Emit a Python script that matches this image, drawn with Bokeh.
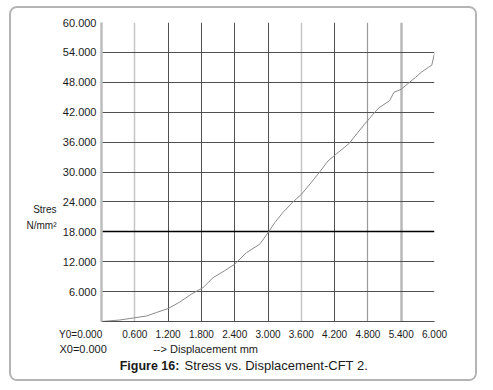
from bokeh.plotting import figure
from bokeh.layouts import column
from bokeh.models import (Range1d, FixedTicker, PrintfTickFormatter, Grid, Label,
                          LinearAxis)
from bokeh.embed import file_html
from bokeh.resources import INLINE

# ---- data ----
displacement = [0, 0.33, 0.57, 0.81, 0.99, 1.2, 1.41, 1.62, 1.83, 2.01, 2.22, 2.4,
                2.61, 2.85, 3.0, 3.12, 3.27, 3.45, 3.6, 3.78, 3.93, 4.08, 4.23, 4.35,
                4.47, 4.53, 4.74, 4.87, 5.0, 5.19, 5.27, 5.4, 5.55, 5.66, 5.76, 5.89,
                5.95, 6.0]
stress = [0, 0.3, 0.7, 1.1, 1.8, 2.6, 3.9, 5.5, 6.8, 8.8, 10.2, 11.5,
          13.8, 15.5, 17.8, 19.8, 21.9, 24.0, 25.5, 27.9, 30.0, 32.2, 33.6, 34.7,
          35.8, 36.7, 39.6, 41.3, 42.9, 44.3, 46.0, 46.6, 48.0, 49.0, 50.0, 51.0,
          51.4, 53.8]

x_ticks = [0, 0.6, 1.2, 1.8, 2.4, 3.0, 3.6, 4.2, 4.8, 5.4, 6.0]
y_ticks = [6, 12, 18, 24, 30, 36, 42, 48, 54, 60]
x_dark = [1.2, 1.8, 2.4, 3.0, 4.2, 6.0]
x_light = [0.6, 3.6]
x_mid = [4.8]
x_light_wide = [5.4]
y_dark = [6, 12, 24, 30, 36, 42, 48, 54, 60]
y_black = [18]

origin_y_text = "Y0=0.000"
origin_x_text = "X0=0.000"
x_title = "--> Displacement mm"
x_title_pos = 1.876
y_title = ["Stres", "N/mm²"]
y_title_pos = [22.5, 19.3]
caption_bold = "Figure 16:"
caption_rest = "Stress vs. Displacement-CFT 2."

FONT = "Liberation Sans"
INK = "#1a1a1a"
W, H = 464, 349
CAP_H = 22
NBSP = "\u00a0"

p = figure(width=W, height=H, output_backend="svg", toolbar_location=None,
           x_range=Range1d(0, 6), y_range=Range1d(0, 60),
           min_border_left=90, min_border_right=41, min_border_top=14,
           min_border_bottom=36)
p.outline_line_color = None
p.xgrid.visible = False
p.ygrid.visible = False

def style_axis(ax, size, standoff):
    ax.major_tick_out = 0
    ax.major_tick_in = 0
    ax.minor_tick_out = 0
    ax.minor_tick_in = 0
    ax.major_label_text_font = FONT
    ax.major_label_text_color = INK
    ax.major_label_text_font_size = size
    ax.major_label_standoff = standoff

# main axes
xa = p.xaxis[0]
ya = p.yaxis[0]
style_axis(xa, "10px", 7)
style_axis(ya, "11px", 5)
xa.ticker = FixedTicker(ticks=x_ticks)
ya.ticker = FixedTicker(ticks=y_ticks)
xa.formatter = PrintfTickFormatter(format="%.3f")
ya.formatter = PrintfTickFormatter(format="%.3f")
xa.major_label_overrides = {0: origin_y_text + NBSP * 15}
xa.axis_line_color = "#505050"
ya.axis_line_color = "#bdbdbd"
ya.axis_line_width = 2.5

# second row below the x axis: X0 and axis title
xa2 = LinearAxis(ticker=FixedTicker(ticks=[0, x_title_pos]))
style_axis(xa2, "11px", 0)
xa2.axis_line_color = None
xa2.major_label_overrides = {0: origin_x_text + NBSP * 12, x_title_pos: x_title}
p.add_layout(xa2, "below")

# y title, left of the y tick labels
ya2 = LinearAxis(ticker=FixedTicker(ticks=y_title_pos))
style_axis(ya2, "10px", 3)
ya2.axis_line_color = None
ya2.major_label_overrides = dict(zip(y_title_pos, y_title))
p.add_layout(ya2, "left")

# grids
def add_grid(dim, ticks, color, width):
    p.add_layout(Grid(dimension=dim, ticker=FixedTicker(ticks=ticks),
                      grid_line_color=color, grid_line_width=width))

add_grid(0, x_dark, "#505050", 1)
add_grid(0, x_light, "#c4c4c4", 1.5)
add_grid(0, x_mid, "#9a9a9a", 1.2)
add_grid(0, x_light_wide, "#b8b8b8", 2.5)
add_grid(1, y_dark, "#505050", 1)
add_grid(1, y_black, "#000000", 1.6)

# curve
p.line(displacement, stress, line_color="#8a8a8a", line_width=1)

# caption strip (its frame is aligned with the main frame by the column)
cap = figure(width=W, height=CAP_H, output_backend="svg", toolbar_location=None,
             x_range=Range1d(0, 6), y_range=Range1d(0, CAP_H), min_border=0)
cap.axis.visible = False
cap.grid.visible = False
cap.outline_line_color = None
cap.add_layout(Label(x=0.327, y=14, text=caption_bold, text_font=FONT,
                     text_font_size="12.5px", text_font_style="bold",
                     text_color=INK, text_align="left", text_baseline="middle"))
cap.add_layout(Label(x=1.496, y=14, text=caption_rest, text_font=FONT,
                     text_font_size="13px", text_color=INK,
                     text_align="left", text_baseline="middle"))

layout = column(p, cap, spacing=0,
                styles={"border": "2px solid #b4b4b4", "border-radius": "8px",
                        "overflow": "hidden", "margin-left": "9px",
                        "margin-top": "6px", "background": "white"})

open("out.html", "w").write(file_html(layout, INLINE))
